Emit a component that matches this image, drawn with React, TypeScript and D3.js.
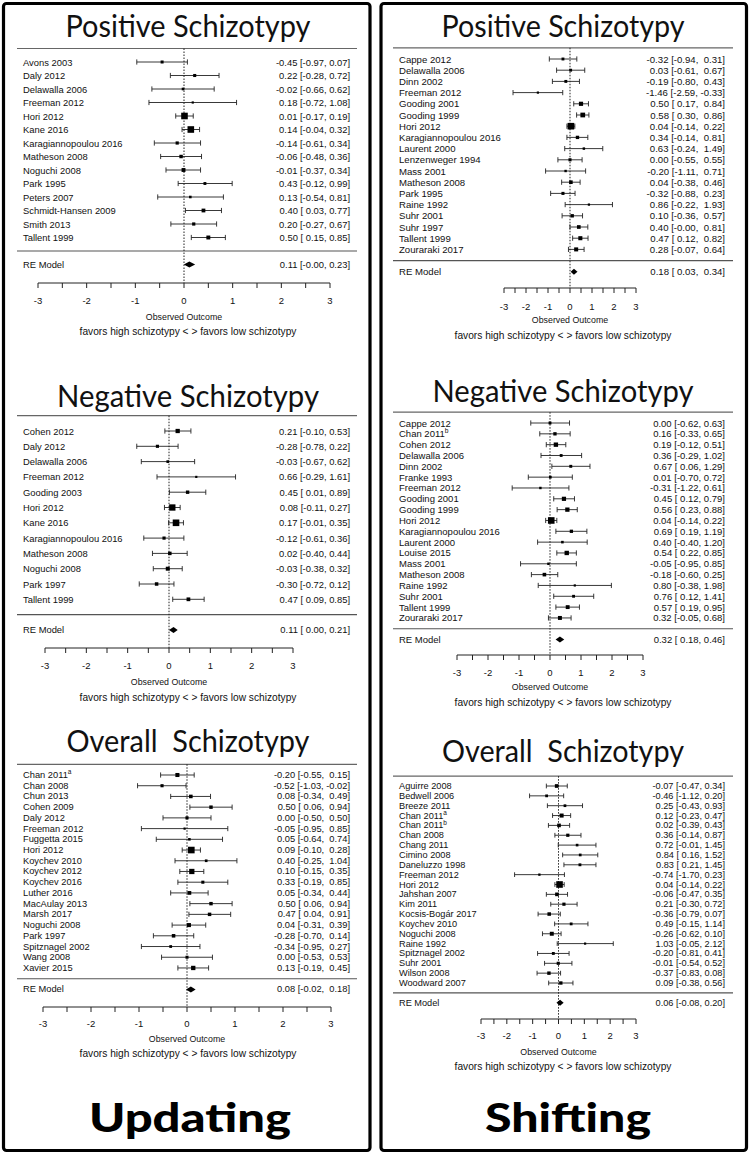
import * as d3 from "d3";

type Row = [string, number, number, number];

// ---- data: [study, estimate, lower, upper] ----
const updPositive: Row[] = [
  ["Avons 2003", -0.45, -0.97, 0.07],
  ["Daly 2012", 0.22, -0.28, 0.72],
  ["Delawalla 2006", -0.02, -0.66, 0.62],
  ["Freeman 2012", 0.18, -0.72, 1.08],
  ["Hori 2012", 0.01, -0.17, 0.19],
  ["Kane 2016", 0.14, -0.04, 0.32],
  ["Karagiannopoulou 2016", -0.14, -0.61, 0.34],
  ["Matheson 2008", -0.06, -0.48, 0.36],
  ["Noguchi 2008", -0.01, -0.37, 0.34],
  ["Park 1995", 0.43, -0.12, 0.99],
  ["Peters 2007", 0.13, -0.54, 0.81],
  ["Schmidt-Hansen 2009", 0.4, 0.03, 0.77],
  ["Smith 2013", 0.2, -0.27, 0.67],
  ["Tallent 1999", 0.5, 0.15, 0.85],
];
const updPositiveRE = [0.11, -0.004, 0.23];

const updNegative: Row[] = [
  ["Cohen 2012", 0.21, -0.1, 0.53],
  ["Daly 2012", -0.28, -0.78, 0.22],
  ["Delawalla 2006", -0.03, -0.67, 0.62],
  ["Freeman 2012", 0.66, -0.29, 1.61],
  ["Gooding 2003", 0.45, 0.01, 0.89],
  ["Hori 2012", 0.08, -0.11, 0.27],
  ["Kane 2016", 0.17, -0.01, 0.35],
  ["Karagiannopoulou 2016", -0.12, -0.61, 0.36],
  ["Matheson 2008", 0.02, -0.4, 0.44],
  ["Noguchi 2008", -0.03, -0.38, 0.32],
  ["Park 1997", -0.3, -0.72, 0.12],
  ["Tallent 1999", 0.47, 0.09, 0.85],
];
const updNegativeRE = [0.11, 0.0, 0.21];

const updOverall: Row[] = [
  ["Chan 2011^a", -0.2, -0.55, 0.15],
  ["Chan 2008", -0.52, -1.03, -0.02],
  ["Chun 2013", 0.08, -0.34, 0.49],
  ["Cohen 2009", 0.5, 0.06, 0.94],
  ["Daly 2012", 0.0, -0.5, 0.5],
  ["Freeman 2012", -0.05, -0.95, 0.85],
  ["Fuggetta 2015", 0.05, -0.64, 0.74],
  ["Hori 2012", 0.09, -0.1, 0.28],
  ["Koychev 2010", 0.4, -0.25, 1.04],
  ["Koychev 2012", 0.1, -0.15, 0.35],
  ["Koychev 2016", 0.33, -0.19, 0.85],
  ["Luther 2016", 0.05, -0.34, 0.44],
  ["MacAulay 2013", 0.5, 0.06, 0.94],
  ["Marsh 2017", 0.47, 0.04, 0.91],
  ["Noguchi 2008", 0.04, -0.31, 0.39],
  ["Park 1997", -0.28, -0.7, 0.14],
  ["Spitznagel 2002", -0.34, -0.95, 0.27],
  ["Wang 2008", 0.0, -0.53, 0.53],
  ["Xavier 2015", 0.13, -0.19, 0.45],
];
const updOverallRE = [0.08, -0.02, 0.18];

const shiPositive: Row[] = [
  ["Cappe 2012", -0.32, -0.94, 0.31],
  ["Delawalla 2006", 0.03, -0.61, 0.67],
  ["Dinn 2002", -0.19, -0.8, 0.43],
  ["Freeman 2012", -1.46, -2.59, -0.33],
  ["Gooding 2001", 0.5, 0.17, 0.84],
  ["Gooding 1999", 0.58, 0.3, 0.86],
  ["Hori 2012", 0.04, -0.14, 0.22],
  ["Karagiannopoulou 2016", 0.34, -0.14, 0.81],
  ["Laurent 2000", 0.63, -0.24, 1.49],
  ["Lenzenweger 1994", 0.0, -0.55, 0.55],
  ["Mass 2001", -0.2, -1.11, 0.71],
  ["Matheson 2008", 0.04, -0.38, 0.46],
  ["Park 1995", -0.32, -0.88, 0.23],
  ["Raine 1992", 0.86, -0.22, 1.93],
  ["Suhr 2001", 0.1, -0.36, 0.57],
  ["Suhr 1997", 0.4, -0.004, 0.81],
  ["Tallent 1999", 0.47, 0.12, 0.82],
  ["Zouraraki 2017", 0.28, -0.07, 0.64],
];
const shiPositiveRE = [0.18, 0.03, 0.34];

const shiNegative: Row[] = [
  ["Cappe 2012", 0.0, -0.62, 0.63],
  ["Chan 2011^b", 0.16, -0.33, 0.65],
  ["Cohen 2012", 0.19, -0.12, 0.51],
  ["Delawalla 2006", 0.36, -0.29, 1.02],
  ["Dinn 2002", 0.67, 0.06, 1.29],
  ["Franke 1993", 0.01, -0.7, 0.72],
  ["Freeman 2012", -0.31, -1.22, 0.61],
  ["Gooding 2001", 0.45, 0.12, 0.79],
  ["Gooding 1999", 0.56, 0.23, 0.88],
  ["Hori 2012", 0.04, -0.14, 0.22],
  ["Karagiannopoulou 2016", 0.69, 0.19, 1.19],
  ["Laurent 2000", 0.4, -0.4, 1.2],
  ["Louise 2015", 0.54, 0.22, 0.85],
  ["Mass 2001", -0.05, -0.95, 0.85],
  ["Matheson 2008", -0.18, -0.6, 0.25],
  ["Raine 1992", 0.8, -0.38, 1.98],
  ["Suhr 2001", 0.76, 0.12, 1.41],
  ["Tallent 1999", 0.57, 0.19, 0.95],
  ["Zouraraki 2017", 0.32, -0.05, 0.68],
];
const shiNegativeRE = [0.32, 0.18, 0.46];

const shiOverall: Row[] = [
  ["Aguirre 2008", -0.07, -0.47, 0.34],
  ["Bedwell 2006", -0.46, -1.12, 0.2],
  ["Breeze 2011", 0.25, -0.43, 0.93],
  ["Chan 2011^a", 0.12, -0.23, 0.47],
  ["Chan 2011^b", 0.02, -0.39, 0.43],
  ["Chan 2008", 0.36, -0.14, 0.87],
  ["Chang 2011", 0.72, -0.01, 1.45],
  ["Cimino 2008", 0.84, 0.16, 1.52],
  ["Daneluzzo 1998", 0.83, 0.21, 1.45],
  ["Freeman 2012", -0.74, -1.7, 0.23],
  ["Hori 2012", 0.04, -0.14, 0.22],
  ["Jahshan 2007", -0.06, -0.47, 0.35],
  ["Kim 2011", 0.21, -0.3, 0.72],
  ["Kocsis-Bogár 2017", -0.36, -0.79, 0.07],
  ["Koychev 2010", 0.49, -0.15, 1.14],
  ["Noguchi 2008", -0.26, -0.62, 0.1],
  ["Raine 1992", 1.03, -0.05, 2.12],
  ["Spitznagel 2002", -0.2, -0.81, 0.41],
  ["Suhr 2001", -0.01, -0.54, 0.52],
  ["Wilson 2008", -0.37, -0.83, 0.08],
  ["Woodward 2007", 0.09, -0.38, 0.56],
];
const shiOverallRE = [0.06, -0.08, 0.2];

const majorTicks = [-3, -2, -1, 0, 1, 2, 3];
const minorTicks = [-2.5, -1.5, -0.5, 0.5, 1.5, 2.5];
const xLabel = "Observed Outcome";
const favLabel = "favors high schizotypy < > favors low schizotypy";

// ---- layout ----
const FONT = "'Liberation Sans', Arial, Helvetica, sans-serif";
const TITLE_FONT = "Lato, 'Open Sans', sans-serif";

const columns = [
  { boxX: 3.5, boxW: 366.5, lineL: 17, lineR: 357, labelX: 23, valueX: 350, centerX: 188, bigTitle: "Updating", bigW: 202, bigX: 190 },
  { boxX: 381, boxW: 365.5, lineL: 393, lineR: 733, labelX: 399, valueX: 725, centerX: 563, bigTitle: "Shifting", bigW: 166, bigX: 568 },
];

const panels = [
  { col: 0, title: "Positive Schizotypy", titleW: 245, rows: updPositive, re: updPositiveRE, titleY: 37, firstY: 62, step: 13.5, axisY: 283, tickY: 300, obsY: 317, favY: 331, x0: 38, x1: 330, fs: 9.4 },
  { col: 0, title: "Negative Schizotypy", titleW: 262, rows: updNegative, re: updNegativeRE, titleY: 407, firstY: 431, step: 15.3, axisY: 648, tickY: 665, obsY: 682, favY: 697, x0: 45, x1: 293, fs: 9.4 },
  { col: 0, title: "Overall  Schizotypy", titleW: 243, rows: updOverall, re: updOverallRE, titleY: 752, firstY: 775, step: 10.72, axisY: 1007, tickY: 1023, obsY: 1039, favY: 1053, x0: 43, x1: 331, fs: 9.3 },
  { col: 1, title: "Positive Schizotypy", titleW: 243, rows: shiPositive, re: shiPositiveRE, titleY: 37, firstY: 59, step: 11.2, axisY: 288, tickY: 306, obsY: 320, favY: 335, x0: 504, x1: 636, fs: 9.6 },
  { col: 1, title: "Negative Schizotypy", titleW: 261, rows: shiNegative, re: shiNegativeRE, titleY: 402, firstY: 423, step: 10.83, axisY: 655, tickY: 672, obsY: 687, favY: 702, x0: 457, x1: 643, fs: 9.5 },
  { col: 1, title: "Overall  Schizotypy", titleW: 242, rows: shiOverall, re: shiOverallRE, titleY: 762, firstY: 786, step: 9.85, axisY: 1019, tickY: 1035, obsY: 1052, favY: 1066, x0: 481, x1: 636, fs: 9.2 },
];

const fmt = (v: number) => v.toFixed(2);

function Label({ text, x, y, fs }: { text: string; x: number; y: number; fs: number }) {
  const [main, sup] = text.split("^");
  return (
    <text x={x} y={y} dominantBaseline="central" fontSize={fs} fill="#111">
      {main}
      {sup && (
        <tspan fontSize={fs * 0.7} dy={-fs * 0.4}>
          {sup}
        </tspan>
      )}
    </text>
  );
}

function Forest({ p }: { p: (typeof panels)[number] }) {
  const c = columns[p.col];
  const x = d3.scaleLinear().domain([-3, 3]).range([p.x0, p.x1]);
  const n = p.rows.length;
  // row i sits at y(i); top rule at y(-1), separator at y(n), RE model at y(n+1)
  const y = d3.scaleLinear().domain([0, 1]).range([p.firstY, p.firstY + p.step]);
  const invSe = p.rows.map((r) => 3.92 / (r[3] - r[2]));
  const psize = d3.scaleLinear().domain(d3.extent(invSe) as [number, number]).range([0.5, 1.5]);
  const base = 4.4;
  const cap = Math.min(2.6, p.step * 0.24);

  const all = [...p.rows.map((r) => [r[1], r[2], r[3]]), p.re];
  const wE = d3.max(all, (a) => fmt(a[0]).length)!;
  const wL = d3.max(all, (a) => fmt(a[1]).length)!;
  const wU = d3.max(all, (a) => fmt(a[2]).length)!;
  const valText = (a: number[]) =>
    `${fmt(a[0]).padStart(wE)} [${fmt(a[1]).padStart(wL)}, ${fmt(a[2]).padStart(wU)}]`;

  const reY = y(n + 1);
  return (
    <g fontFamily={FONT}>
      <text x={c.centerX} y={p.titleY} textAnchor="middle" fontFamily={TITLE_FONT} fontSize={30} fill="#111"
        textLength={p.titleW} lengthAdjust="spacingAndGlyphs" style={{ whiteSpace: "pre" }}>
        {p.title}
      </text>
      <line x1={c.lineL} x2={c.lineR} y1={y(-1)} y2={y(-1)} stroke="#666" strokeWidth={1.2} />
      <line x1={c.lineL} x2={c.lineR} y1={y(n)} y2={y(n)} stroke="#555" strokeWidth={1.1} />
      <line x1={x(0)} x2={x(0)} y1={y(-1)} y2={p.axisY} stroke="#222" strokeWidth={1} strokeDasharray="1.5,1.5" />

      {p.rows.map((r, i) => {
        const yy = y(i);
        const s = base * psize(invSe[i]);
        return (
          <g key={i}>
            <Label text={r[0]} x={c.labelX} y={yy} fs={p.fs} />
            <line x1={x(r[2])} x2={x(r[3])} y1={yy} y2={yy} stroke="#222" strokeWidth={0.9} />
            <line x1={x(r[2])} x2={x(r[2])} y1={yy - cap} y2={yy + cap} stroke="#222" strokeWidth={0.9} />
            <line x1={x(r[3])} x2={x(r[3])} y1={yy - cap} y2={yy + cap} stroke="#222" strokeWidth={0.9} />
            <rect x={x(r[1]) - s / 2} y={yy - s / 2} width={s} height={s} fill="#000" />
            <text x={c.valueX} y={yy} textAnchor="end" dominantBaseline="central" fontSize={p.fs} fill="#111"
              style={{ whiteSpace: "pre" }}>
              {valText([r[1], r[2], r[3]])}
            </text>
          </g>
        );
      })}

      <text x={c.labelX} y={reY} dominantBaseline="central" fontSize={p.fs} fill="#111">RE Model</text>
      <polygon
        points={[
          [x(p.re[1]), reY],
          [x(p.re[0]), reY - 3],
          [x(p.re[2]), reY],
          [x(p.re[0]), reY + 3],
        ].map((q) => q.join(",")).join(" ")}
        fill="#000"
      />
      <text x={c.valueX} y={reY} textAnchor="end" dominantBaseline="central" fontSize={p.fs} fill="#111"
        style={{ whiteSpace: "pre" }}>
        {valText(p.re)}
      </text>

      <line x1={x(-3)} x2={x(3)} y1={p.axisY} y2={p.axisY} stroke="#222" strokeWidth={1} />
      {[...majorTicks, ...minorTicks].map((t) => (
        <line key={t} x1={x(t)} x2={x(t)} y1={p.axisY} y2={p.axisY + 5} stroke="#222" strokeWidth={1} />
      ))}
      {majorTicks.map((t) => (
        <text key={t} x={x(t)} y={p.tickY} textAnchor="middle" dominantBaseline="central" fontSize={9.5} fill="#111">
          {t}
        </text>
      ))}
      <text x={x(0)} y={p.obsY} textAnchor="middle" dominantBaseline="central" fontSize={8.8} fill="#111">
        {xLabel}
      </text>
      <text x={c.centerX} y={p.favY} textAnchor="middle" dominantBaseline="central" fontSize={10.2} fill="#111">
        {favLabel}
      </text>
    </g>
  );
}

export default function App() {
  return (
    <div style={{ position: "absolute", left: 0, top: 0 }}>
      <svg width={752} height={1156} viewBox="0 0 752 1156" style={{ display: "block", background: "#fff" }}>
        <rect x={0} y={0} width={752} height={1156} fill="#fff" />
        {columns.map((c, i) => (
          <g key={i}>
            <rect x={c.boxX} y={3.5} width={c.boxW} height={1147} rx={3} fill="none" stroke="#000" strokeWidth={3.2} />
            <text x={c.bigX} y={1132} textAnchor="middle" fontFamily={TITLE_FONT} fontWeight={900} fontSize={40}
              fill="#000" textLength={c.bigW} lengthAdjust="spacingAndGlyphs">
              {c.bigTitle}
            </text>
          </g>
        ))}
        {panels.map((p, i) => (
          <Forest key={i} p={p} />
        ))}
      </svg>
    </div>
  );
}
